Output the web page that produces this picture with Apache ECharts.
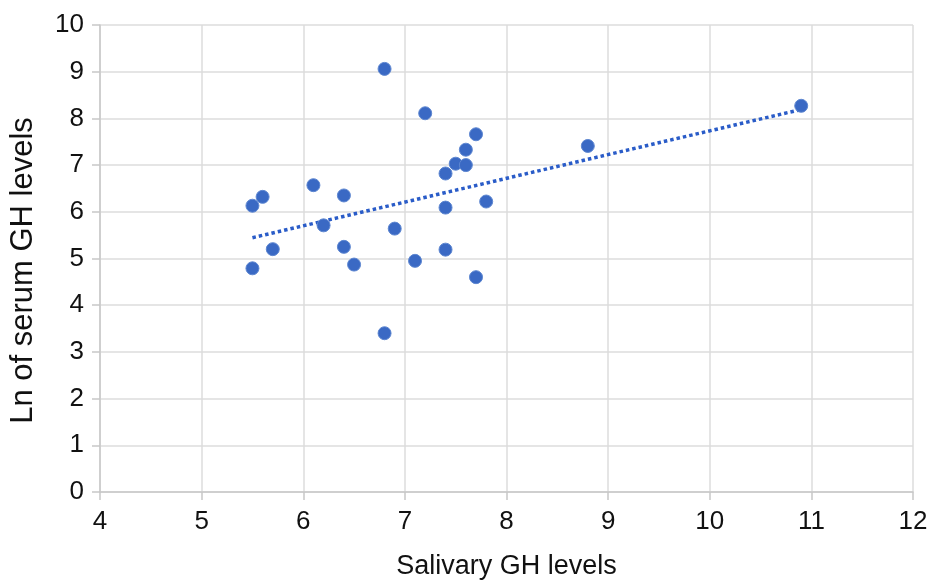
<!DOCTYPE html>
<html>
<head>
<meta charset="utf-8">
<script src="https://cdn.jsdelivr.net/npm/echarts@6/dist/echarts.min.js"></script>
<style>
  html, body { margin: 0; padding: 0; background: #fff; }
  #chart { width: 940px; height: 585px; }
</style>
</head>
<body>
<div id="chart"></div>
<script>
// salivary GH (x) vs ln of serum GH (y)
const salivaryGH = [5.5, 5.6, 5.5, 5.7, 6.1, 6.2, 6.4, 6.4, 6.5, 6.8, 6.8, 6.9, 7.1,
  7.2, 7.4, 7.4, 7.4, 7.5, 7.6, 7.6, 7.7, 7.7, 7.8, 8.8, 10.9];
const lnSerumGH = [6.13, 6.32, 4.79, 5.20, 6.57, 5.71, 6.35, 5.25, 4.87, 9.06, 3.40, 5.64, 4.95,
  8.11, 6.82, 6.09, 5.19, 7.03, 7.33, 7.00, 7.66, 4.60, 6.22, 7.41, 8.27];
const xTicks = [4, 5, 6, 7, 8, 9, 10, 11, 12];
const yTicks = [0, 1, 2, 3, 4, 5, 6, 7, 8, 9, 10];

// linear trendline (least squares) from the points
const n = salivaryGH.length;
const mx = salivaryGH.reduce((a, b) => a + b, 0) / n;
const my = lnSerumGH.reduce((a, b) => a + b, 0) / n;
let sxy = 0, sxx = 0;
for (let i = 0; i < n; i++) {
  sxy += (salivaryGH[i] - mx) * (lnSerumGH[i] - my);
  sxx += (salivaryGH[i] - mx) * (salivaryGH[i] - mx);
}
const slope = sxy / sxx;
const intercept = my - slope * mx;
const xMin = Math.min(...salivaryGH);
const xMax = Math.max(...salivaryGH);
const trend = [[xMin, intercept + slope * xMin], [xMax, intercept + slope * xMax]];

const points = salivaryGH.map((x, i) => [x, lnSerumGH[i]]);

const font = '"Liberation Sans", Arial, sans-serif';
const chart = echarts.init(document.getElementById('chart'));

chart.setOption({
  animation: false,
  grid: { left: 100, right: 27, top: 25, bottom: 92 },
  xAxis: {
    type: 'value',
    min: xTicks[0],
    max: xTicks[xTicks.length - 1],
    interval: 1,
    name: 'Salivary GH levels',
    nameLocation: 'middle',
    nameGap: 61,
    nameTextStyle: { color: '#111', fontSize: 27, fontFamily: font },
    axisLine: { show: true, lineStyle: { color: '#c8c8c8', width: 1.5 } },
    axisTick: { show: true, length: 8, lineStyle: { color: '#c8c8c8', width: 1.5 } },
    axisLabel: { color: '#111', fontSize: 26, fontFamily: font, margin: 17 },
    splitLine: { show: true, lineStyle: { color: '#dcdcdc', width: 1.5 } }
  },
  yAxis: {
    type: 'value',
    min: yTicks[0],
    max: yTicks[yTicks.length - 1],
    interval: 1,
    name: 'Ln of serum GH levels',
    nameLocation: 'middle',
    nameGap: 61,
    nameRotate: 90,
    nameTextStyle: { color: '#111', fontSize: 31, fontFamily: font, padding: [0, 24, 0, 0] },
    axisLine: { show: true, lineStyle: { color: '#c8c8c8', width: 1.5 } },
    axisTick: { show: true, length: 8, lineStyle: { color: '#c8c8c8', width: 1.5 } },
    axisLabel: { color: '#111', fontSize: 26, fontFamily: font, margin: 16 },
    splitLine: { show: true, lineStyle: { color: '#dcdcdc', width: 1.5 } }
  },
  series: [
    {
      type: 'line',
      data: trend,
      showSymbol: false,
      symbol: 'none',
      lineStyle: { color: '#2a5cc8', width: 3.5, type: [3.5, 3], cap: 'butt' },
      z: 2
    },
    {
      type: 'scatter',
      data: points,
      symbolSize: 13,
      itemStyle: { color: '#3a69c4', borderColor: '#5d86d0', borderWidth: 1, opacity: 1 },
      z: 3
    }
  ]
});
</script>
</body>
</html>
